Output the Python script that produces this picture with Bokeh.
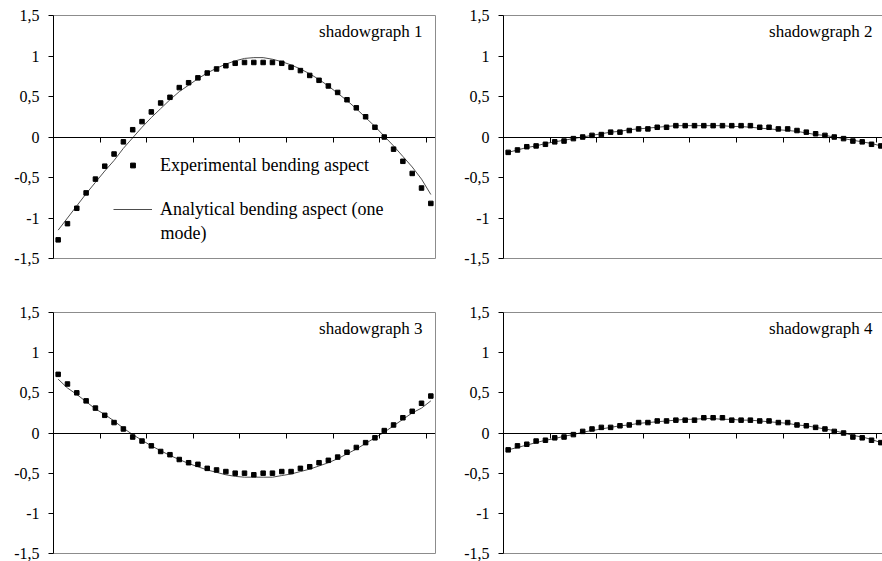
from bokeh.plotting import figure
from bokeh.models import LinearAxis, FixedTicker, Range1d, Label, Legend, LegendItem
from bokeh.layouts import column, row
from bokeh.embed import file_html
from bokeh.resources import INLINE

# ---------------- data ----------------
categories = list(range(1, 42))          # 41 measurement stations
x_ticks = [5, 10, 15, 20, 25, 30, 35, 40]  # category boundaries with tick marks
y_ticks = [-1.5, -1, -0.5, 0, 0.5, 1, 1.5]
y_tick_labels = ["-1,5", "-1", "-0,5", "0", "0,5", "1", "1,5"]
titles = ["shadowgraph 1", "shadowgraph 2", "shadowgraph 3", "shadowgraph 4"]
legend_labels = ["Experimental bending aspect", "Analytical bending aspect (one", "mode)"]

exp1 = [-1.27, -1.07, -0.88, -0.69, -0.52, -0.36, -0.21, -0.06, 0.09, 0.19,
        0.31, 0.42, 0.49, 0.61, 0.67, 0.73, 0.79, 0.84, 0.88, 0.91,
        0.92, 0.92, 0.92, 0.92, 0.91, 0.86, 0.82, 0.76, 0.70, 0.63,
        0.55, 0.46, 0.36, 0.25, 0.12, 0.00, -0.15, -0.30, -0.45, -0.63, -0.82]
ana1 = [-1.15, -1.00, -0.85, -0.70, -0.56, -0.42, -0.29, -0.14, -0.01, 0.12,
        0.24, 0.35, 0.46, 0.56, 0.64, 0.72, 0.79, 0.85, 0.90, 0.94,
        0.97, 0.98, 0.98, 0.96, 0.93, 0.89, 0.84, 0.78, 0.71, 0.63,
        0.54, 0.45, 0.35, 0.24, 0.13, 0.01, -0.11, -0.24, -0.37, -0.52, -0.71]

exp2 = [-0.19, -0.16, -0.12, -0.11, -0.09, -0.06, -0.05, -0.02, 0.00, 0.02,
        0.03, 0.06, 0.06, 0.08, 0.10, 0.10, 0.12, 0.12, 0.14, 0.14,
        0.14, 0.14, 0.14, 0.14, 0.14, 0.14, 0.14, 0.12, 0.12, 0.10,
        0.10, 0.08, 0.06, 0.04, 0.02, 0.00, -0.02, -0.05, -0.06, -0.09, -0.11]
ana2 = [-0.19, -0.16, -0.13, -0.11, -0.08, -0.06, -0.04, -0.02, 0.00, 0.02,
        0.04, 0.06, 0.07, 0.09, 0.10, 0.11, 0.12, 0.13, 0.14, 0.14,
        0.14, 0.14, 0.14, 0.14, 0.13, 0.13, 0.12, 0.11, 0.10, 0.09,
        0.08, 0.07, 0.05, 0.03, 0.02, 0.00, -0.02, -0.04, -0.06, -0.08, -0.11]

exp3 = [0.73, 0.61, 0.50, 0.40, 0.31, 0.22, 0.13, 0.05, -0.05, -0.10,
        -0.16, -0.23, -0.27, -0.33, -0.37, -0.39, -0.44, -0.46, -0.48, -0.50,
        -0.50, -0.52, -0.50, -0.50, -0.48, -0.48, -0.44, -0.42, -0.37, -0.34,
        -0.30, -0.24, -0.18, -0.12, -0.06, 0.03, 0.10, 0.19, 0.27, 0.37, 0.46]
ana3 = [0.67, 0.56, 0.48, 0.39, 0.30, 0.23, 0.15, 0.06, -0.02, -0.09,
        -0.16, -0.22, -0.28, -0.33, -0.38, -0.42, -0.46, -0.49, -0.52, -0.54,
        -0.55, -0.55, -0.55, -0.55, -0.53, -0.51, -0.48, -0.45, -0.41, -0.37,
        -0.32, -0.26, -0.20, -0.13, -0.06, 0.01, 0.09, 0.17, 0.25, 0.31, 0.40]

exp4 = [-0.21, -0.16, -0.14, -0.10, -0.09, -0.06, -0.05, -0.02, 0.02, 0.05,
        0.07, 0.07, 0.09, 0.10, 0.13, 0.13, 0.15, 0.15, 0.16, 0.16,
        0.16, 0.19, 0.19, 0.19, 0.16, 0.16, 0.16, 0.15, 0.15, 0.13,
        0.13, 0.10, 0.09, 0.07, 0.05, 0.02, 0.00, -0.05, -0.06, -0.09, -0.12]
ana4 = [-0.21, -0.18, -0.15, -0.12, -0.09, -0.07, -0.04, -0.02, 0.01, 0.03,
        0.05, 0.07, 0.09, 0.10, 0.12, 0.13, 0.14, 0.15, 0.16, 0.17,
        0.17, 0.18, 0.18, 0.17, 0.17, 0.16, 0.16, 0.15, 0.14, 0.13,
        0.12, 0.10, 0.09, 0.07, 0.05, 0.03, 0.00, -0.03, -0.05, -0.08, -0.12]

# ---------------- styling ----------------
FONT = "Liberation Serif"
BORDER = "#8c8c8c"
LINE_COLOR = "#4d4d4d"
n_cat = len(categories)
xpos = [c - 0.5 for c in categories]   # points sit in the middle of each category


def border_axis():
    return LinearAxis(ticker=FixedTicker(ticks=[]), axis_line_color=BORDER, axis_line_width=1,
                      major_tick_line_color=None, minor_tick_line_color=None,
                      major_tick_out=0, major_tick_in=0, major_label_standoff=0,
                      major_label_text_color=None)


def make_panel(exp, ana, title, left_col, top_row):
    width = 455 if left_col else 427
    height = 285 if top_row else 276
    x_end = n_cat if left_col else n_cat * 379 / 382
    p = figure(width=width, height=height,
               x_range=Range1d(0, x_end), y_range=Range1d(-1.5, 1.5),
               x_axis_type=None, y_axis_type=None,
               output_backend="svg", toolbar_location=None,
               min_border_left=53 if left_col else 48,
               min_border_right=20 if left_col else 0,
               min_border_top=15 if top_row else 27,
               min_border_bottom=27 if top_row else 8)
    p.outline_line_color = None
    p.background_fill_color = "white"
    p.border_fill_color = "white"

    # plot-area border (top, bottom, right for left column)
    p.add_layout(border_axis(), "above")
    p.add_layout(border_axis(), "below")
    if left_col:
        p.add_layout(border_axis(), "right")

    # y axis
    yax = LinearAxis(ticker=FixedTicker(ticks=y_ticks),
                     major_label_overrides={t: l for t, l in zip(y_ticks, y_tick_labels)},
                     axis_line_color="black", axis_line_width=1,
                     major_tick_line_color="black", major_tick_out=5, major_tick_in=0,
                     minor_tick_line_color=None, major_label_standoff=9,
                     major_label_text_font=FONT, major_label_text_font_size="16px",
                     major_label_text_color="black")
    p.add_layout(yax, "left")

    # x axis crossing at y = 0 (tick marks only)
    xax = LinearAxis(ticker=FixedTicker(ticks=x_ticks), fixed_location=0,
                     axis_line_color="black", axis_line_width=1,
                     major_tick_line_color="black", major_tick_out=5, major_tick_in=0,
                     minor_tick_line_color=None, major_label_text_color=None,
                     major_label_standoff=0)
    p.add_layout(xax, "below")

    line_r = p.line(xpos, ana, line_color=LINE_COLOR, line_width=1)
    sc_r = p.scatter(xpos, exp, marker="square", size=4.5, fill_color="black", line_color="black")

    p.add_layout(Label(x=n_cat, y=1.5, x_offset=-13, y_offset=-6, text=title,
                       text_align="right", text_baseline="top",
                       text_font=FONT, text_font_size="17px", text_color="black"))
    return p, line_r, sc_r


p1, l1, s1 = make_panel(exp1, ana1, titles[0], True, True)
p2, _, _ = make_panel(exp2, ana2, titles[1], False, True)
p3, _, _ = make_panel(exp3, ana3, titles[2], True, False)
p4, _, _ = make_panel(exp4, ana4, titles[3], False, False)

legend = Legend(items=[LegendItem(label=legend_labels[0], renderers=[s1]),
                       LegendItem(label=legend_labels[1], renderers=[l1])],
                location=(60, 37), orientation="vertical",
                glyph_width=39, glyph_height=12, label_height=24, spacing=20,
                label_standoff=8, padding=0, margin=0,
                border_line_color=None, background_fill_alpha=0,
                label_text_font=FONT, label_text_font_size="18px", label_text_color="black")
p1.add_layout(legend, "center")
p1.add_layout(Label(x=11.48, y=-1.191, text=legend_labels[2], text_align="left",
                    text_baseline="middle", text_font=FONT, text_font_size="18px",
                    text_color="black"))

layout = column(row(p1, p2), row(p3, p4))

with open("out.html", "w") as f:
    f.write(file_html(layout, INLINE))
